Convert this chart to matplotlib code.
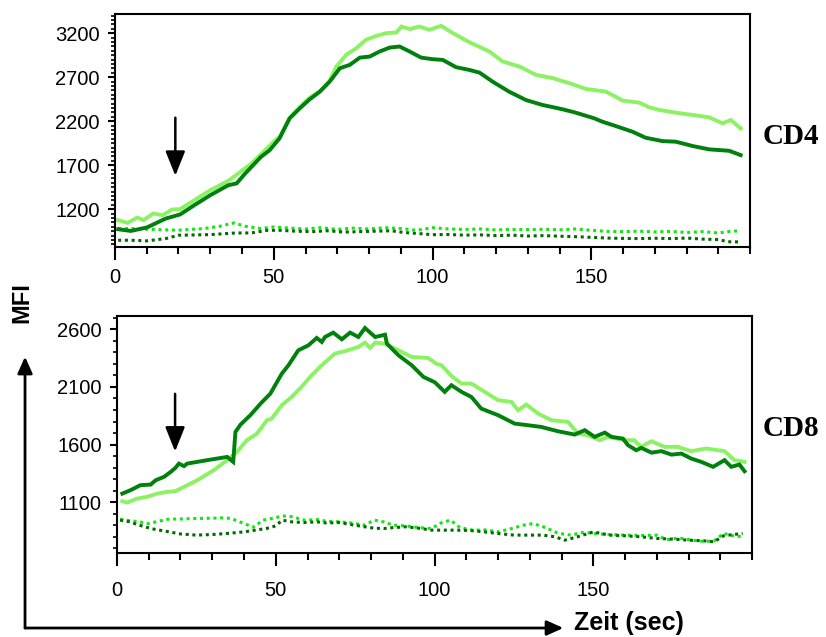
import matplotlib
matplotlib.use("Agg")
import matplotlib.pyplot as plt
from matplotlib.ticker import MultipleLocator
from matplotlib.patches import FancyArrowPatch

# ---- CD4 panel (time in sec, MFI) ----
cd4_light_t = [1, 4, 7, 9, 12, 15, 18, 20.5, 25, 30, 35.7, 38.8, 43, 46, 50, 52, 55, 58, 61,
               64.5, 67.6, 69.7, 72.8, 76, 79, 82.3, 85.4, 88.6, 90.2, 92.8, 95.9, 99, 102.7,
               106.4, 111.6, 117.9, 122.1, 127.4, 132.6, 137.9, 143.1, 148.3, 154.6, 159.9,
               165.1, 168.2, 171.4, 176.6, 181.9, 187.1, 191.3, 193.9, 197]
cd4_light = [1075, 1044, 1105, 1075, 1151, 1132, 1197, 1200, 1302, 1416, 1522, 1606, 1720, 1826,
             1967, 2030, 2240, 2355, 2460, 2540, 2660, 2821, 2954, 3030, 3125, 3170, 3201, 3208,
             3276, 3247, 3276, 3239, 3284, 3201, 3098, 2992, 2878, 2821, 2726, 2689, 2632, 2567,
             2536, 2434, 2411, 2358, 2328, 2297, 2271, 2244, 2176, 2214, 2119]

cd4_dark_t = [1, 5, 10, 16, 20.5, 25, 30, 35.7, 38.3, 41, 46, 48.7, 51.8, 55, 58.2, 61.3, 64.5,
              67.6, 70.8, 73.9, 77.1, 80.2, 83.3, 86.5, 89.6, 92.8, 96.4, 100, 103.2, 107.4,
              111.6, 114.8, 118.9, 124.1, 129.4, 134.6, 140.9, 145.1, 150.9, 153.5, 157.7, 163,
              167.1, 172.4, 176.6, 181.9, 187.1, 193.4, 197]
cd4_dark = [972, 953, 992, 1094, 1140, 1246, 1359, 1473, 1493, 1606, 1796, 1870, 2005, 2233,
            2347, 2449, 2536, 2650, 2802, 2840, 2923, 2935, 2992, 3037, 3049, 2992, 2923, 2905,
            2897, 2814, 2783, 2752, 2650, 2536, 2441, 2385, 2336, 2297, 2233, 2194, 2145, 2080,
            2012, 1974, 1967, 1918, 1880, 1864, 1815]

cd4_ctrl_light_t = [1, 5, 12, 20, 28, 33, 37.5, 41, 46, 50, 55, 60, 65, 70, 75, 80, 85, 90, 95,
                    100, 105, 110, 115, 120, 125, 130, 135, 140, 145, 150, 155, 160, 165, 170,
                    175, 180, 185, 190, 194, 197]
cd4_ctrl_light = [980, 980, 969, 961, 980, 1006, 1044, 1006, 980, 999, 985, 975, 990, 970, 985,
                  975, 990, 980, 960, 990, 975, 970, 975, 965, 970, 968, 972, 965, 975, 960,
                  948, 945, 950, 942, 948, 935, 945, 930, 950, 955]

cd4_ctrl_dark_t = [1, 5, 10, 16, 20, 30, 38, 43, 48, 52, 57, 62, 67, 72, 77, 82, 87, 91, 95,
                   100, 105, 110, 115, 120, 125, 130, 135, 140, 145, 150, 155, 160, 165, 170,
                   175, 180, 185, 190, 193, 197]
cd4_ctrl_dark = [847, 847, 840, 866, 904, 911, 930, 930, 960, 960, 950, 945, 955, 940, 945, 950,
                 955, 935, 925, 910, 912, 905, 908, 900, 905, 895, 900, 893, 888, 880, 872, 868,
                 866, 870, 866, 872, 860, 855, 830, 828]

# ---- CD8 panel ----
cd8_light_t = [1.7, 3.2, 6.4, 9.5, 12.7, 15.8, 18.4, 21.1, 25.3, 30.5, 34.7, 37.8, 40.9, 44.1,
               47.2, 48.7, 51.9, 55, 58.1, 61.3, 64.5, 68.6, 72.8, 76, 78.1, 79.7, 81.3, 84.4,
               87.6, 92.8, 98, 100.6, 102.2, 105.3, 108.5, 111.6, 115.8, 120, 124.2, 126.3,
               128.9, 132.6, 136.8, 142, 145.2, 148.3, 152, 154.6, 159.8, 162.9, 165, 168.3,
               172.4, 176.6, 180.8, 185.5, 191.3, 194.4, 197.6]
cd8_light = [1109, 1097, 1132, 1147, 1175, 1190, 1196, 1233, 1291, 1378, 1465, 1537, 1638, 1695,
             1811, 1825, 1941, 2013, 2100, 2201, 2288, 2389, 2418, 2447, 2484, 2438, 2484, 2475,
             2432, 2360, 2351, 2300, 2288, 2195, 2129, 2129, 2057, 1985, 1970, 1898, 1947, 1869,
             1811, 1797, 1695, 1681, 1638, 1667, 1638, 1638, 1580, 1629, 1580, 1580, 1543, 1566,
             1543, 1465, 1450]

cd8_dark_t = [1.7, 4.3, 7.4, 10.6, 12.2, 14.8, 16.9, 18.4, 19.5, 21.1, 22.1, 28.4, 34.7, 36.6,
              37.3, 38.9, 42, 45.2, 48.3, 51.9, 54, 57.1, 60.3, 62.9, 64.5, 65.5, 68.1, 70.8,
              73.4, 76, 78.1, 81.3, 84.4, 85, 88.6, 92.8, 96.5, 100.1, 103.2, 105.3, 108.5,
              111.6, 114.7, 120, 125.2, 129.4, 133.6, 138.8, 144.1, 147.3, 150.4, 153.6, 155.7,
              159.3, 160.9, 163.5, 165.1, 168.3, 171.4, 174.6, 177.7, 180.8, 184, 187.7, 191.3,
              193.4, 196, 197.6]
cd8_dark = [1175, 1205, 1248, 1253, 1291, 1320, 1363, 1398, 1435, 1413, 1435, 1465, 1493, 1450,
            1710, 1773, 1855, 1955, 2042, 2215, 2288, 2418, 2461, 2525, 2490, 2533, 2571, 2513,
            2571, 2533, 2611, 2533, 2553, 2475, 2375, 2288, 2187, 2140, 2057, 2115, 2057, 2013,
            1912, 1855, 1782, 1768, 1753, 1716, 1687, 1725, 1667, 1704, 1667, 1652, 1595, 1551,
            1571, 1530, 1543, 1513, 1522, 1479, 1450, 1407, 1465, 1407, 1427, 1369]

cd8_ctrl_light_t = [1, 4, 7, 10, 13, 16, 20, 25, 30, 34, 36, 40, 43, 46, 50, 52, 55, 59, 63, 66,
                    70, 74, 78, 81, 84, 87, 91, 95, 99, 102, 105, 108, 112, 116, 120, 124, 128,
                    131, 135, 139, 143, 147, 150, 155, 160, 165, 170, 173, 177, 181, 185, 188,
                    191, 194, 197]
cd8_ctrl_light = [953, 940, 930, 915, 935, 953, 955, 959, 962, 965, 959, 915, 884, 945, 965, 982,
                  975, 945, 950, 935, 930, 920, 901, 945, 930, 901, 895, 880, 872, 920, 945, 880,
                  858, 860, 843, 870, 901, 915, 880, 830, 815, 840, 829, 820, 815, 812, 815, 775,
                  790, 771, 760, 765, 829, 810, 800]

cd8_ctrl_dark_t = [1, 4, 7, 11, 15, 20, 25, 30, 35, 40, 44, 47, 50, 52, 55, 59, 63, 66, 70, 74,
                   78, 81, 84, 87, 91, 95, 99, 103, 107, 111, 115, 120, 125, 130, 134, 138, 141,
                   145, 150, 155, 160, 165, 170, 175, 180, 185, 188, 191, 194, 197]
cd8_ctrl_dark = [945, 930, 901, 870, 850, 825, 815, 820, 830, 843, 860, 872, 895, 945, 930, 924,
                 930, 920, 924, 905, 887, 875, 872, 880, 887, 875, 858, 858, 858, 855, 845, 829,
                 815, 815, 815, 800, 771, 800, 843, 815, 809, 800, 786, 780, 771, 765, 757, 809,
                 820, 829]

light_c = '#8cf264'
dark_c = '#00800c'
ctrl_light_c = '#14e614'
ctrl_dark_c = '#006a00'

plt.rcParams['font.family'] = ['Liberation Sans', 'DejaVu Sans']

fig = plt.figure(figsize=(8.26, 6.37), dpi=100)
ax1 = fig.add_axes([0.1392, 0.6122, 0.769, 0.366])
ax2 = fig.add_axes([0.1416, 0.1319, 0.769, 0.372])


def draw(ax, cl_t, cl, cd_t, cd, l_t, l, d_t, d, xpad):
    dot = (0, (1, 1.2))
    ax.plot(cl_t, cl, color=ctrl_light_c, lw=2.2, ls=dot)
    ax.plot(cd_t, cd, color=ctrl_dark_c, lw=2.2, ls=dot)
    ax.plot(l_t, l, color=light_c, lw=2.8, solid_joinstyle='miter')
    ax.plot(d_t, d, color=dark_c, lw=2.8, solid_joinstyle='miter')
    ax.set_xlim(0, 200)
    ax.set_xticks([0, 50, 100, 150])
    ax.xaxis.set_minor_locator(MultipleLocator(10))
    ax.tick_params(axis='x', which='major', length=9, width=1.5, pad=xpad, labelsize=14.5)
    ax.tick_params(axis='x', which='minor', length=5, width=1.5)
    ax.tick_params(axis='y', which='major', length=5, width=1.5, pad=6, labelsize=14.5)
    ax.tick_params(axis='y', which='minor', length=3, width=1.2)
    for s in ax.spines.values():
        s.set_linewidth(1.5)


draw(ax1, cd4_ctrl_light_t, cd4_ctrl_light, cd4_ctrl_dark_t, cd4_ctrl_dark,
     cd4_light_t, cd4_light, cd4_dark_t, cd4_dark, 6)
ax1.set_ylim(770, 3420)
ax1.set_yticks([1200, 1700, 2200, 2700, 3200])
ax1.yaxis.set_minor_locator(MultipleLocator(50))

draw(ax2, cd8_ctrl_light_t, cd8_ctrl_light, cd8_ctrl_dark_t, cd8_ctrl_dark,
     cd8_light_t, cd8_light, cd8_dark_t, cd8_dark, 11)
ax2.set_ylim(660, 2715)
ax2.set_yticks([1100, 1600, 2100, 2600])
ax2.yaxis.set_minor_locator(MultipleLocator(100))

# stimulus arrows
head = '-|>,head_width=0.6,head_length=1.5'
ax1.annotate('', xy=(19, 1580), xytext=(19, 2240),
             arrowprops=dict(arrowstyle=head, color='black', lw=1.8, shrinkA=0, shrinkB=0))
ax2.annotate('', xy=(18.3, 1540), xytext=(18.3, 2040),
             arrowprops=dict(arrowstyle=head, color='black', lw=1.8, shrinkA=0, shrinkB=0))

# labels
serif = ['Liberation Serif', 'DejaVu Serif']
fig.text(0.923, 0.785, 'CD4', family=serif, fontweight='bold', fontsize=21, va='center', ha='left')
fig.text(0.923, 0.328, 'CD8', family=serif, fontweight='bold', fontsize=21, va='center', ha='left')
fig.text(0.027, 0.525, 'MFI', fontweight='bold', fontsize=17, rotation=90, va='center', ha='center')
fig.text(0.695, 0.022, 'Zeit (sec)', fontweight='bold', fontsize=18, va='center', ha='left')

# big axis arrows in figure coordinates
big = '-|>,head_width=4.5,head_length=10'
fig.add_artist(FancyArrowPatch((0.0303, 0.0141), (0.0303, 0.44), transform=fig.transFigure,
                               arrowstyle=big, color='black', lw=2, shrinkA=0, shrinkB=0))
fig.add_artist(FancyArrowPatch((0.0303, 0.0141), (0.682, 0.0141), transform=fig.transFigure,
                               arrowstyle=big, color='black', lw=2, shrinkA=0, shrinkB=0))

fig.savefig('out.png', dpi=100)
